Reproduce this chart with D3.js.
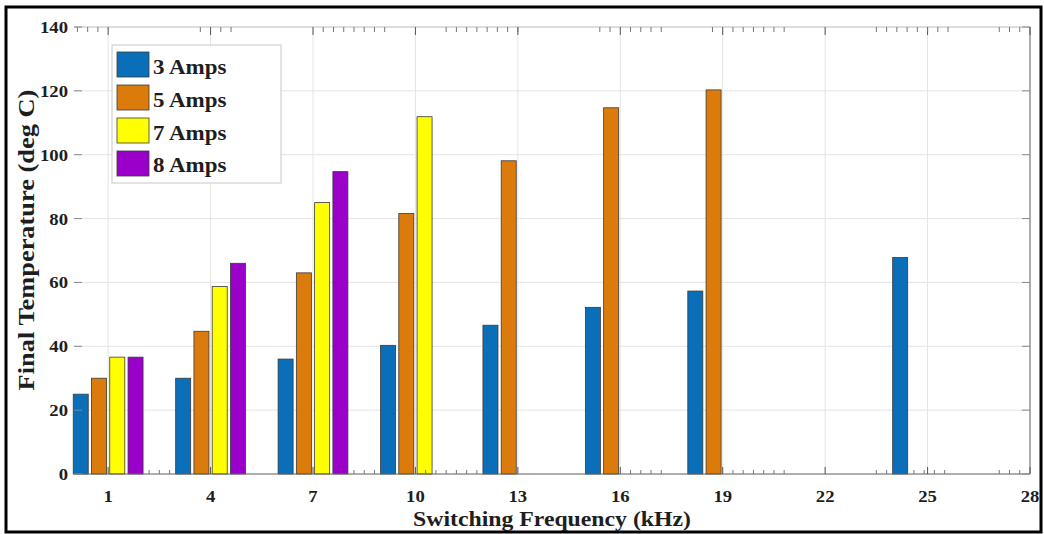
<!DOCTYPE html>
<html>
<head>
<meta charset="utf-8">
<script src="https://cdn.jsdelivr.net/npm/d3@7"></script>
<style>
  html, body { margin: 0; padding: 0; background: #fff; }
  svg { display: block; }
  text { font-family: "Liberation Serif", "Times New Roman", serif; font-weight: bold; }
</style>
</head>
<body>
<svg id="chart" width="1044" height="534"></svg>
<script>
// Switching frequency groups (kHz)
const frequencies = [1, 4, 7, 10, 13, 16, 19, 25];
// Final temperature (deg C) per load current; null = not measured
const amps3 = [25, 30, 36, 40.3, 46.6, 52.2, 57.3, 67.8];
const amps5 = [30, 44.7, 63, 81.6, 98.1, 114.7, 120.3, null];
const amps7 = [36.6, 58.7, 85, 111.9, null, null, null, null];
const amps8 = [36.6, 66, 94.7, null, null, null, null, null];
const seriesNames = ["3 Amps", "5 Amps", "7 Amps", "8 Amps"];
const seriesColors = ["#0a6fb8", "#db7b0b", "#ffff00", "#9a00c9"];
const xTicks = [1, 4, 7, 10, 13, 16, 19, 22, 25, 28];
const yTicks = [0, 20, 40, 60, 80, 100, 120, 140];
// ranges along x where minor tick marks are drawn (0.3 kHz apart)
const minorBottom = [[2.2, 2.8], [8.2, 8.8], [10.3, 11.8], [16.3, 17.2], [19.3, 20.8], [23.5, 23.8], [24.6, 25.6], [27.1, 27.7]];
const minorTop = [[0.1, 0.7], [3.7, 3.8], [4.3, 4.6], [7.3, 9.1], [10.9, 13.0], [15.4, 15.7], [16.3, 17.2], [18.7, 18.8], [19.3, 20.8], [23.5, 25.6], [27.1, 27.8]];

const series = [amps3, amps5, amps7, amps8];

const svg = d3.select("#chart");
const L = 74, R = 1030, T = 27, B = 474;

const x = d3.scaleLinear().domain([0, 28]).range([L, R]);
const y = d3.scaleLinear().domain([0, 140]).range([B, T]);

// the serif labels are set slightly wide
function wideText(parent, px, py, sx, sy, size) {
  return parent.append("text")
    .attr("transform", `translate(${px},${py}) scale(${sx},${sy})`)
    .attr("font-size", size).attr("fill", "#1e1e1e");
}

// outer frame
svg.append("rect").attr("x", 6).attr("y", 7).attr("width", 1035).attr("height", 525)
  .attr("fill", "none").attr("stroke", "#000").attr("stroke-width", 3);

// grid
const grid = svg.append("g");
grid.selectAll("line.h").data(yTicks).join("line")
  .attr("x1", L).attr("x2", R).attr("y1", d => y(d)).attr("y2", d => y(d))
  .attr("stroke", "#e4e4e4").attr("stroke-width", 1);
grid.selectAll("line.v").data(xTicks).join("line")
  .attr("y1", T).attr("y2", B).attr("x1", d => x(d)).attr("x2", d => x(d))
  .attr("stroke", "#e4e4e4").attr("stroke-width", 1);

// bars
const step = 0.535, barW = 0.44;
const offsets = [-1.5, -0.5, 0.5, 1.5];
series.forEach((vals, si) => {
  const data = frequencies.map((f, i) => ({ f, v: vals[i] })).filter(d => d.v !== null);
  svg.append("g").selectAll("rect").data(data).join("rect")
    .attr("x", d => x(d.f + offsets[si] * step - barW / 2))
    .attr("width", x(barW) - x(0))
    .attr("y", d => y(d.v))
    .attr("height", d => y(0) - y(d.v))
    .attr("fill", seriesColors[si])
    .attr("stroke", "#3a3a3a").attr("stroke-width", 0.8);
});

// box lines
svg.append("line").attr("x1", L).attr("x2", R).attr("y1", T).attr("y2", T).attr("stroke", "#c8c8c8");
svg.append("line").attr("x1", L).attr("x2", R).attr("y1", B).attr("y2", B).attr("stroke", "#6a6a6a");
svg.append("line").attr("x1", R).attr("x2", R).attr("y1", T).attr("y2", B).attr("stroke", "#6a6a6a");

// tick marks
const ticks = svg.append("g").attr("stroke", "#555").attr("stroke-width", 1);
xTicks.forEach(t => {
  ticks.append("line").attr("x1", x(t)).attr("x2", x(t)).attr("y1", B).attr("y2", B - 7);
  ticks.append("line").attr("x1", x(t)).attr("x2", x(t)).attr("y1", T).attr("y2", T + 8);
});
function minorList(ranges) {
  const out = [];
  ranges.forEach(([a, b]) => { for (let v = a; v <= b + 1e-6; v += 0.3) out.push(v); });
  return out;
}
minorList(minorBottom).forEach(t => {
  ticks.append("line").attr("x1", x(t)).attr("x2", x(t)).attr("y1", B).attr("y2", B - 4).attr("stroke", "#777");
});
minorList(minorTop).forEach(t => {
  ticks.append("line").attr("x1", x(t)).attr("x2", x(t)).attr("y1", T).attr("y2", T + 5).attr("stroke", "#777");
});
yTicks.forEach(t => {
  ticks.append("line").attr("x1", L).attr("x2", L + 8).attr("y1", y(t)).attr("y2", y(t)).attr("stroke", "#888");
  ticks.append("line").attr("x1", R).attr("x2", R - 8).attr("y1", y(t)).attr("y2", y(t)).attr("stroke", "#888");
});

// tick labels
const yLab = svg.append("g");
yTicks.forEach(t => {
  wideText(yLab, L - 6, y(t) + 6, 1.1, 1, 17).attr("text-anchor", "end").text(t);
});
const xLab = svg.append("g");
xTicks.forEach(t => {
  wideText(xLab, x(t), B + 28, 1.1, 1, 17).attr("text-anchor", "middle").text(t);
});

// axis titles
wideText(svg, (L + R) / 2, 526, 1.08, 1, 22).attr("text-anchor", "middle")
  .text("Switching Frequency (kHz)");
svg.append("text")
  .attr("transform", `translate(34,240) rotate(-90) scale(1.1,1)`)
  .attr("text-anchor", "middle").attr("font-size", 24).attr("fill", "#1e1e1e")
  .text("Final Temperature (deg C)");

// legend
const lg = svg.append("g").attr("transform", "translate(112,45)");
lg.append("rect").attr("width", 169).attr("height", 138)
  .attr("fill", "#fff").attr("stroke", "#c8c8c8");
seriesNames.forEach((name, i) => {
  lg.append("rect").attr("x", 5).attr("y", 7 + i * 33).attr("width", 32).attr("height", 25)
    .attr("fill", seriesColors[i]).attr("stroke", "#3a3a3a").attr("stroke-width", 0.8);
  wideText(lg, 41, 29 + i * 32.8, 1.15, 1, 20).text(name);
});
</script>
</body>
</html>
